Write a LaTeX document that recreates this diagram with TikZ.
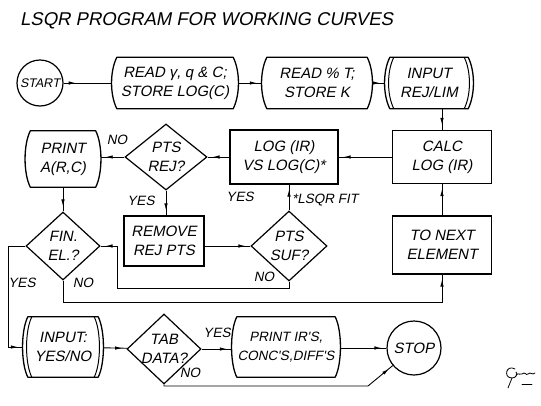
\documentclass[tikz,border=0pt]{standalone}
\usepackage{fontspec}
\newfontfamily\hand{Liberation Sans}[FakeSlant=0.2]
\usetikzlibrary{shapes.geometric,decorations.markings,arrows.meta,calc}
\tikzset{
  txt/.style={font=\hand\fontsize{15}{19}\selectfont, align=center, inner sep=0pt},
  ttl/.style={font=\hand\fontsize{18.5}{20}\selectfont, inner sep=0pt},
  lbl/.style={font=\hand\fontsize{13.5}{16}\selectfont, inner sep=0pt},
  boxline/.style={line width=1.3pt, line join=round},
  proc/.style={txt, draw, line width=1.2pt},
  dec/.style={txt, draw, diamond, line width=1.2pt, inner sep=-10pt},
  term/.style={txt, draw, circle, line width=1.2pt, inner sep=-6pt},
  flow/.style={line width=0.9pt, postaction={decorate, decoration={markings,
      mark=at position #1 with {\arrow{Latex[length=7pt,width=3.5pt]}}}}},
  flow/.default=-5pt,
  sig/.style={line width=0.8pt, line cap=round}
}
\newcommand{\cardpath}[1]{%
  \draw[boxline] ($(#1.north west)+(5,0)$) -- ($(#1.north east)+(-5,0)$)
    .. controls +(7,14) and +(7,-14) .. ($(#1.south east)+(-5,0)$)
    -- ($(#1.south west)+(5,0)$)
    .. controls +(-7,-14) and +(-7,14) .. cycle;}
\newcommand{\dblpath}[1]{%
  \cardpath{#1}%
  \draw[line width=1pt] ($(#1.north west)+(9,0)$) .. controls +(-7,14) and +(-7,-14) .. ($(#1.south west)+(9,0)$);
  \draw[line width=1pt] ($(#1.north east)+(-9,0)$) .. controls +(7,14) and +(7,-14) .. ($(#1.south east)+(-9,0)$);}
\begin{document}
\begin{tikzpicture}[x=1pt,y=-1pt]
\fill[white] (0,0) rectangle (541,405);
\useasboundingbox (0,0) rectangle (541,405);

\node[ttl, anchor=west] (title) at (20,21) {LSQR PROGRAM FOR WORKING CURVES};

% row 1
\node[term, minimum size=46pt, font=\hand\fontsize{12.5}{14}\selectfont] (start) at (40,83) {START};
\node[txt, minimum width=126pt, minimum height=51pt] (read1) at (175,83) {READ γ, q \& C;\\STORE LOG(C)};
\node[txt, minimum width=110pt, minimum height=51pt] (read2) at (317,83) {READ \% T;\\STORE K};
\node[txt, minimum width=88pt, minimum height=51pt] (inrej) at (429,83) {INPUT\\REJ/LIM};
\cardpath{read1}
\cardpath{read2}
\dblpath{inrej}

% row 2
\node[txt, minimum width=75pt, minimum height=56pt] (printA) at (63,159) {PRINT\\A(R,C)};
\cardpath{printA}
\node[dec, minimum width=82pt, minimum height=66pt] (ptsrej) at (166,157) {PTS\\REJ?};
\node[proc, minimum width=108pt, minimum height=54pt] (log) at (284,157) {LOG (IR)\\VS LOG(C)*};
\node[proc, minimum width=99pt, minimum height=53pt] (calc) at (442,157) {CALC\\LOG (IR)};

% row 3
\node[dec, minimum width=74pt, minimum height=68pt] (fin) at (63,246) {FIN.\\EL.?};
\node[proc, minimum width=80pt, minimum height=50pt] (remove) at (164,241) {REMOVE\\REJ PTS};
\node[dec, minimum width=76pt, minimum height=70pt] (ptssuf) at (289,246) {PTS\\SUF?};
\node[proc, minimum width=99pt, minimum height=58pt] (tonext) at (442,245) {TO NEXT\\ELEMENT};

% row 4
\node[txt, minimum width=80pt, minimum height=60pt] (inyn) at (63,347) {INPUT:\\YES/NO};
\dblpath{inyn}
\node[dec, minimum width=74pt, minimum height=70pt] (tab) at (164,349) {TAB\\DATA?};
\node[txt, minimum width=108pt, minimum height=60pt, font=\hand\fontsize{13.5}{19}\selectfont] (printIR) at (286,347) {PRINT IR'S,\\CONC'S,DIFF'S};
\cardpath{printIR}
\node[term, minimum size=54pt] (stop) at (414,348) {STOP};

% junctions
\coordinate (j1) at (117,288);
\coordinate (j2) at (442,302);
\coordinate (j3) at (8,246);
\coordinate (j4) at (368,386);

% connectors
\draw[flow=12pt] (start) -- (read1);
\draw[flow] (read1) -- (read2);
\draw[flow] (read2) -- (inrej);
\draw[flow] (inrej.south -| calc.north) -- (calc.north);
\draw[flow] (calc) -- (log);
\draw[flow] (log) -- (ptsrej);
\draw[flow] (ptsrej.west) -- (ptsrej.west -| printA.east);
\draw[flow] (ptsrej.south) -- (ptsrej.south |- remove.north);
\draw[flow] (printA.south) -- (fin.north);
\draw[flow] (ptssuf.north) -- (ptssuf.north |- log.south);
\draw[flow] (remove.east |- ptssuf.west) -- (ptssuf.west);
\draw[flow] (ptssuf.south) |- (j1) |- (fin.east);
\draw[flow] (fin.south) |- (j2) -- (tonext.south);
\draw[flow] (tonext) -- (calc);
\draw[flow] (fin.west) -- (j3) |- (inyn.west);
\draw[flow] (inyn) -- (tab);
\draw[flow] (tab.east) -- (tab.east -| printIR.west);
\draw[flow] (printIR.east |- stop.west) -- (stop.west);
\draw[flow] (tab.south) -- (tab.south |- j4) -- (j4) -- (stop);

% labels
\node[lbl] (lno1) at (117,140) {NO};
\node[lbl] (lyes1) at (141,201) {YES};
\node[lbl] (lyes2) at (240,197) {YES};
\node[lbl, anchor=west] (lfit) at (292,200) {*LSQR FIT};
\node[lbl] (lno2) at (264,277) {NO};
\node[lbl] (lyes3) at (22,283) {YES};
\node[lbl] (lno3) at (83,283) {NO};
\node[lbl] (lyes4) at (217,333) {YES};
\node[lbl] (lno4) at (190,373) {NO};

% signature
\draw[sig] (515,369) .. controls (506,364) and (503,378) .. (512,378) .. controls (516,378) and (518,374) .. (516,372);
\draw[sig] (512,378) -- (508,388);
\draw[sig] (516,375) .. controls (519,372) and (520,376) .. (522,374) .. controls (525,371) and (526,376) .. (528,374) .. controls (531,371) and (532,376) .. (535,373);
\draw[sig, line width=0.6pt] (522,384) -- (532,384);
\end{tikzpicture}
\end{document}
